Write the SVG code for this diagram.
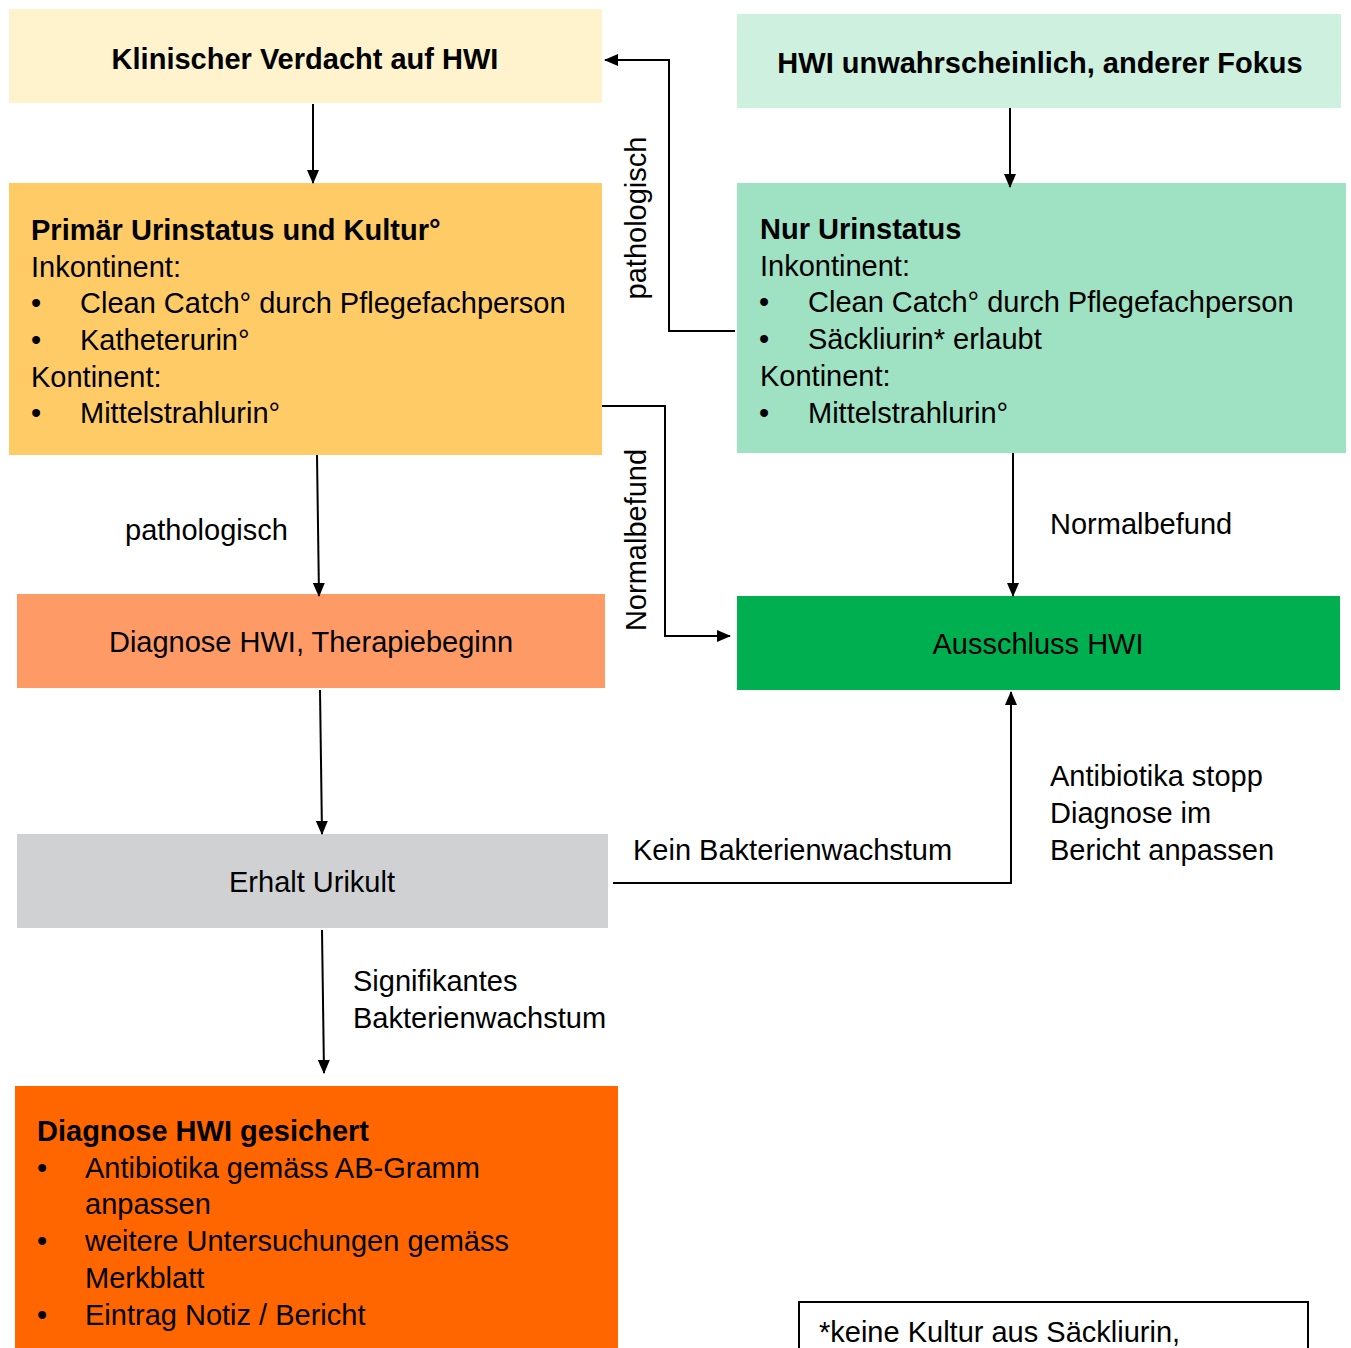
<svg xmlns="http://www.w3.org/2000/svg" width="1351" height="1348" viewBox="0 0 1351 1348">
<style>
text{font-family:"Liberation Sans",Arial,sans-serif;font-size:29px;fill:#000}
.b{font-weight:bold}
.c{text-anchor:middle}
.ln{fill:none;stroke:#000;stroke-width:2}
</style>
<defs>
<marker id="ah" markerWidth="14" markerHeight="12" refX="13" refY="6" orient="auto" markerUnits="userSpaceOnUse">
<path d="M0,0 L14,6 L0,12 Z" fill="#000"/>
</marker>
</defs>
<rect width="1351" height="1348" fill="#fff"/>
<g id="n1">
<rect x="9" y="9" width="593" height="94" fill="#FEF3CD"/>
<text class="b c" x="305" y="69">Klinischer Verdacht auf HWI</text>
</g>
<g id="n2">
<rect x="737" y="14" width="604" height="94" fill="#CDF0DF"/>
<text class="b c" x="1040" y="73">HWI unwahrscheinlich, anderer Fokus</text>
</g>
<g id="n3">
<rect x="9" y="183" width="593" height="272" fill="#FECB66"/>
<text class="b" x="31" y="240">Primär Urinstatus und Kultur°</text>
<text x="31" y="277">Inkontinent:</text>
<text x="31" y="313">•</text><text x="80" y="313">Clean Catch° durch Pflegefachperson</text>
<text x="31" y="350">•</text><text x="80" y="350">Katheterurin°</text>
<text x="31" y="387">Kontinent:</text>
<text x="31" y="423">•</text><text x="80" y="423">Mittelstrahlurin°</text>
</g>
<g id="n4">
<rect x="737" y="183" width="609" height="270" fill="#9EE1C3"/>
<text class="b" x="760" y="239">Nur Urinstatus</text>
<text x="760" y="276">Inkontinent:</text>
<text x="759" y="312">•</text><text x="808" y="312">Clean Catch° durch Pflegefachperson</text>
<text x="759" y="349">•</text><text x="808" y="349">Säckliurin* erlaubt</text>
<text x="760" y="386">Kontinent:</text>
<text x="759" y="423">•</text><text x="808" y="423">Mittelstrahlurin°</text>
</g>
<g id="n5">
<rect x="17" y="594" width="588" height="94" fill="#FE9A66"/>
<text class="c" x="311" y="652">Diagnose HWI, Therapiebeginn</text>
</g>
<g id="n6">
<rect x="737" y="596" width="603" height="94" fill="#00B050"/>
<text class="c" x="1038" y="654">Ausschluss HWI</text>
</g>
<g id="n7">
<rect x="17" y="834" width="591" height="94" fill="#D0D1D3"/>
<text class="c" x="312" y="892">Erhalt Urikult</text>
</g>
<g id="n8">
<rect x="15" y="1086" width="603" height="270" fill="#FF6600"/>
<text class="b" x="37" y="1141">Diagnose HWI gesichert</text>
<text x="37" y="1178">•</text><text x="85" y="1178">Antibiotika gemäss AB-Gramm</text>
<text x="85" y="1214">anpassen</text>
<text x="37" y="1251">•</text><text x="85" y="1251">weitere Untersuchungen gemäss</text>
<text x="85" y="1288">Merkblatt</text>
<text x="37" y="1325">•</text><text x="85" y="1325">Eintrag Notiz / Bericht</text>
</g>
<g id="n9">
<rect x="799" y="1302" width="509" height="60" fill="#fff" stroke="#000" stroke-width="2"/>
<text x="819" y="1342">*keine Kultur aus Säckliurin,</text>
</g>
<g id="connectors">
<path class="ln" d="M313,104 V183" marker-end="url(#ah)"/>
<path class="ln" d="M1010,108 V187" marker-end="url(#ah)"/>
<path class="ln" d="M735,331 H669 V60 H605" marker-end="url(#ah)"/>
<path class="ln" d="M602,406 H665 V636 H730" marker-end="url(#ah)"/>
<path class="ln" d="M317,455 L319,596" marker-end="url(#ah)"/>
<path class="ln" d="M1013,453 V596" marker-end="url(#ah)"/>
<path class="ln" d="M320,690 L322,834" marker-end="url(#ah)"/>
<path class="ln" d="M613,883 H1011 V692" marker-end="url(#ah)"/>
<path class="ln" d="M322,930 L324,1073" marker-end="url(#ah)"/>
<text class="c" transform="translate(646,218) rotate(-90)">pathologisch</text>
<text class="c" transform="translate(646,540) rotate(-90)">Normalbefund</text>
<text x="125" y="540">pathologisch</text>
<text x="1050" y="534">Normalbefund</text>
<text x="633" y="860">Kein Bakterienwachstum</text>
<text x="1050" y="786">Antibiotika stopp</text>
<text x="1050" y="823">Diagnose im</text>
<text x="1050" y="860">Bericht anpassen</text>
<text x="353" y="991">Signifikantes</text>
<text x="353" y="1028">Bakterienwachstum</text>
</g>
</svg>
